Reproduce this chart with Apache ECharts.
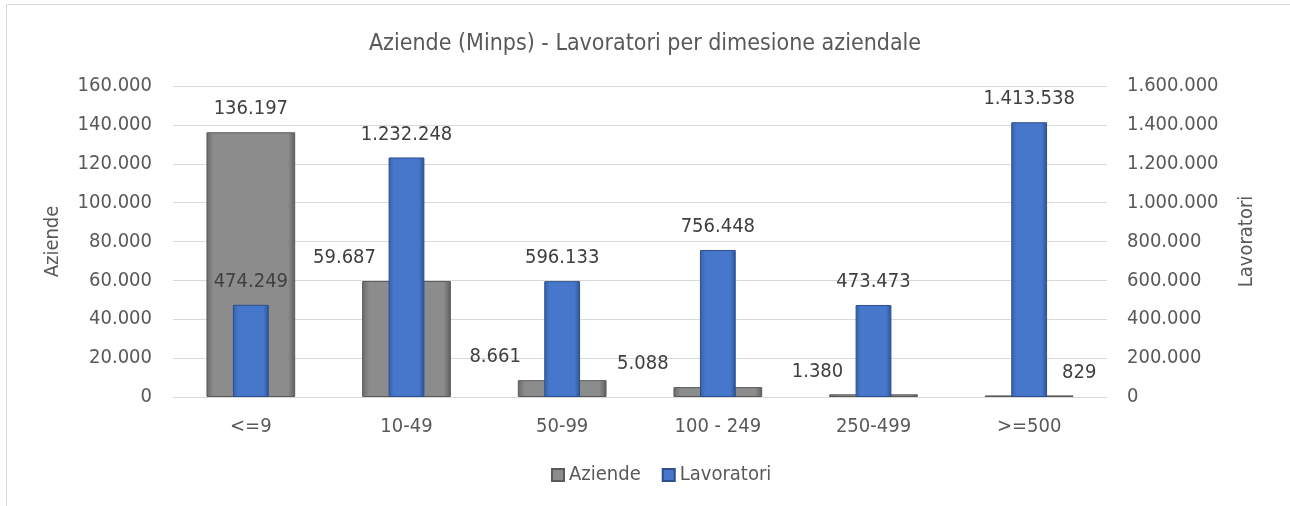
<!DOCTYPE html>
<html>
<head>
<meta charset="utf-8">
<script src="https://cdn.jsdelivr.net/npm/echarts@6/dist/echarts.min.js"></script>
<style>html,body{margin:0;padding:0;background:#fff}#c{width:1290px;height:506px}</style>
</head>
<body>
<div id="c"></div>
<script>
const categories = ['<=9', '10-49', '50-99', '100 - 249', '250-499', '>=500'];
const aziende = [136197, 59687, 8661, 5088, 1380, 829];
const lavoratori = [474249, 1232248, 596133, 756448, 473473, 1413538];
const leftTicks = { min: 0, max: 160000, interval: 20000 };
const rightTicks = { min: 0, max: 1600000, interval: 200000 };

// label layout (Excel smart placement of the grey labels)
const aziendeLabelShift = [0, -62, -67, -75, -56, 50];

const FONT = "'DejaVu Sans Condensed', 'DejaVu Sans', sans-serif";
const TXT = '#595959';
const fmt = v => String(Math.round(v)).replace(/\B(?=(\d{3})+(?!\d))/g, '.');

const grayGrad = new echarts.graphic.LinearGradient(0, 0, 1, 0, [
  { offset: 0, color: '#6a6a6a' }, { offset: 0.08, color: '#8c8c8c' },
  { offset: 0.92, color: '#8c8c8c' }, { offset: 1, color: '#5e5e5e' }
]);
const blueGrad = new echarts.graphic.LinearGradient(0, 0, 1, 0, [
  { offset: 0, color: '#3560a8' }, { offset: 0.15, color: '#4677cb' },
  { offset: 0.85, color: '#4677cb' }, { offset: 1, color: '#2d5394' }
]);

const chart = echarts.init(document.getElementById('c'), null, { renderer: 'canvas' });
chart.setOption({
  animation: false,
  textStyle: { fontFamily: FONT },
  graphic: [{
    type: 'rect', shape: { x: 6.5, y: 4.5, width: 1300, height: 520 },
    style: { fill: 'none', stroke: '#d9d9d9', lineWidth: 1 }, silent: true, z: -10
  }],
  title: {
    text: 'Aziende (Minps) - Lavoratori per dimesione aziendale',
    left: 'center', top: 28,
    textStyle: { fontFamily: FONT, fontSize: 23, fontWeight: 'normal', color: TXT }
  },
  legend: {
    bottom: 16, left: 546, icon: 'rect', itemWidth: 12, itemHeight: 12, itemGap: 21,
    textStyle: { fontFamily: FONT, fontSize: 20, color: TXT },
    data: ['Aziende', 'Lavoratori']
  },
  grid: { left: 173, right: 183, top: 86, bottom: 109, containLabel: false },
  xAxis: [{
    type: 'category', data: categories, position: 'bottom',
    axisLine: { show: true, lineStyle: { color: '#d9d9d9', width: 1 } },
    axisTick: { show: false },
    axisLabel: { color: TXT, fontSize: 20, fontFamily: FONT, margin: 20 }
  }, {
    type: 'category', data: categories, show: false
  }],
  yAxis: [{
    type: 'value', ...leftTicks,
    name: 'Aziende', nameLocation: 'middle', nameGap: 110,
    nameTextStyle: { color: TXT, fontSize: 20, fontFamily: FONT },
    axisLine: { show: false }, axisTick: { show: false },
    axisLabel: { color: TXT, fontSize: 20, fontFamily: FONT, margin: 21, formatter: fmt },
    splitLine: { lineStyle: { color: '#d9d9d9', width: 1 } }
  }, {
    type: 'value', ...rightTicks, position: 'right',
    name: 'Lavoratori', nameLocation: 'middle', nameGap: 130,
    nameTextStyle: { color: TXT, fontSize: 20, fontFamily: FONT },
    axisLine: { show: false }, axisTick: { show: false },
    axisLabel: { color: TXT, fontSize: 20, fontFamily: FONT, margin: 20, formatter: fmt },
    splitLine: { show: false }
  }],
  series: [{
    name: 'Aziende', type: 'bar', xAxisIndex: 0, yAxisIndex: 0,
    barWidth: '57%',
    itemStyle: { color: grayGrad, borderColor: '#5a5a5a', borderWidth: 1 },
    data: aziende.map((v, i) => ({
      value: v,
      label: { offset: [aziendeLabelShift[i], 0] }
    })),
    label: {
      show: true, position: 'top', distance: 13, color: '#404040', fontSize: 20, fontFamily: FONT,
      formatter: p => fmt(p.value)
    }
  }, {
    name: 'Lavoratori', type: 'bar', xAxisIndex: 1, yAxisIndex: 1,
    barWidth: '23%',
    itemStyle: { color: blueGrad, borderColor: '#2c4f8c', borderWidth: 1 },
    data: lavoratori,
    label: {
      show: true, position: 'top', distance: 13, color: '#404040', fontSize: 20, fontFamily: FONT,
      formatter: p => fmt(p.value)
    }
  }]
});
</script>
</body>
</html>
